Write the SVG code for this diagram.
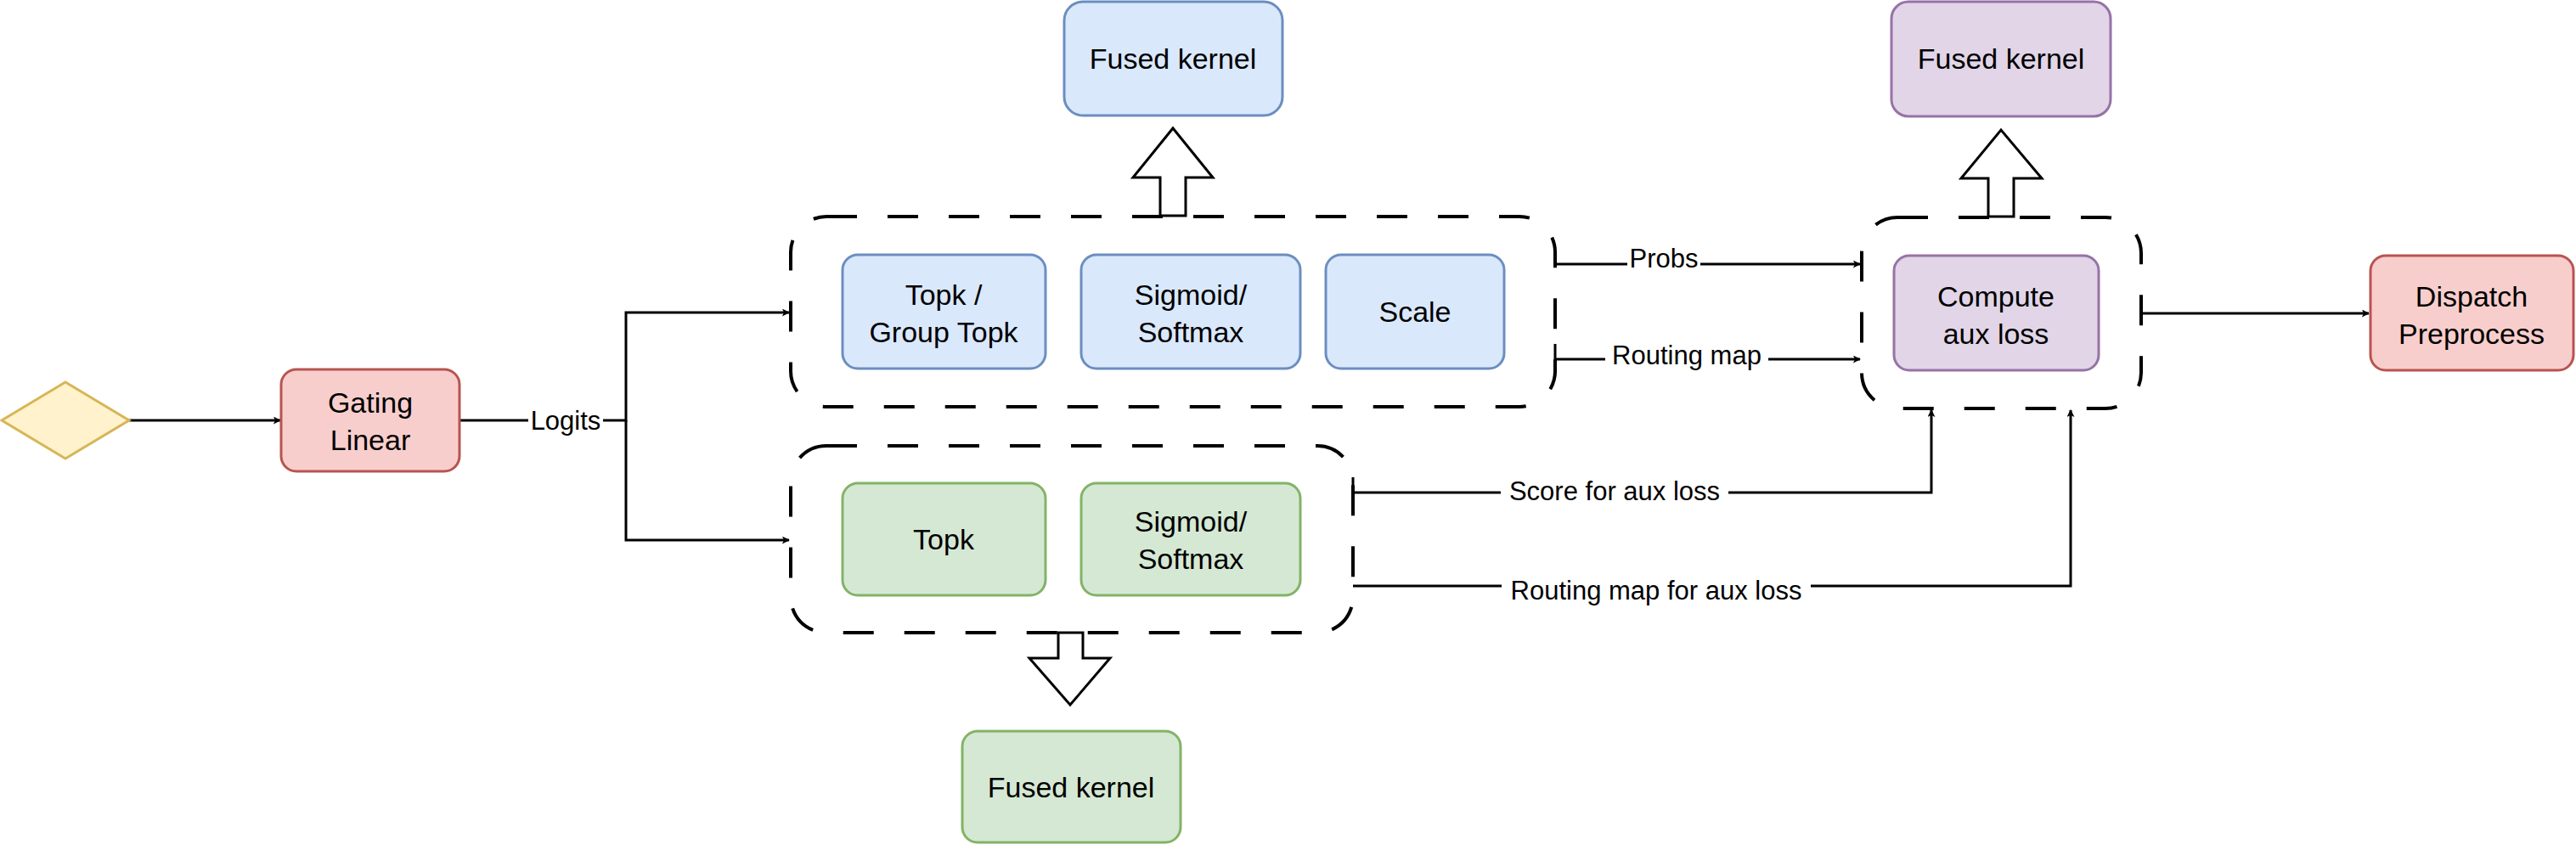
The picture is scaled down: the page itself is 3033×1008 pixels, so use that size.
<svg xmlns="http://www.w3.org/2000/svg" width="3033" height="1008" viewBox="0 0 3033 1008">
<style>
text{font-family:"Liberation Sans",Arial,sans-serif;font-size:34px;fill:#000;text-anchor:middle;dominant-baseline:central}
.lbl{font-size:31px}
.n{stroke-width:3}
.blue{fill:#dae8fc;stroke:#6c8ebf}
.green{fill:#d5e8d4;stroke:#82b366}
.purple{fill:#e1d5e7;stroke:#9673a6}
.red{fill:#f8cecc;stroke:#b85450}
.grp{fill:none;stroke:#000;stroke-width:4;stroke-dasharray:36 36}
.c{fill:none;stroke:#000;stroke-width:3}
.blk{fill:#fff;stroke:#000;stroke-width:3;stroke-linejoin:miter}
</style>
<defs>
<marker id="ar" viewBox="0 0 10 10" refX="9" refY="5" markerWidth="9" markerHeight="9" markerUnits="userSpaceOnUse" orient="auto">
<path d="M0,0 L10,5 L0,10 L2.5,5 Z" fill="#000"/>
</marker>
</defs>
<g id="connectors">
<line class="c" x1="152" y1="495" x2="330" y2="495" marker-end="url(#ar)" style="marker-end:url(#ar)"/>
<path class="c" d="M541,495 H737 V368 H929" marker-end="url(#ar)"/>
<path class="c" d="M737,495 V636 H929" marker-end="url(#ar)"/>
<path class="c" d="M1831,311 H2190" marker-end="url(#ar)"/>
<path class="c" d="M1831,423 H2190" marker-end="url(#ar)"/>
<line class="c" x1="1831" y1="405" x2="1831" y2="441"/>
<path class="c" d="M2521,369 H2789" marker-end="url(#ar)"/>
<path class="c" d="M1593,580 H2274 V483" marker-end="url(#ar)"/>
<line class="c" x1="1593" y1="562" x2="1593" y2="598"/>
<path class="c" d="M1593,690 H2438 V483" marker-end="url(#ar)"/>
<rect x="622" y="478" width="88" height="34" fill="#fff"/>
<text class="lbl" x="666" y="495">Logits</text>
<rect x="1916" y="294" width="86" height="34" fill="#fff"/>
<text class="lbl" x="1959" y="304">Probs</text>
<rect x="1890" y="404" width="192" height="34" fill="#fff"/>
<text class="lbl" x="1986" y="418">Routing map</text>
<rect x="1767" y="562" width="268" height="34" fill="#fff"/>
<text class="lbl" x="1901" y="578">Score for aux loss</text>
<rect x="1768" y="676" width="364" height="34" fill="#fff"/>
<text class="lbl" x="1950" y="695">Routing map for aux loss</text>
</g>
<g id="input"><polygon points="2,495 77,450 152,495 77,540" fill="#fff2cc" stroke="#d6b656" stroke-width="3"/></g>
<g id="gating"><rect class="n red" x="331" y="435" width="210" height="120" rx="18"/><text x="436" y="474">Gating</text><text x="436" y="518">Linear</text></g>
<g id="group-top"><rect class="grp" x="931" y="255" width="900" height="224" rx="42"/></g>
<g id="group-bottom"><rect class="grp" x="931" y="525" width="662" height="220" rx="42"/></g>
<g id="group-aux"><rect class="grp" x="2192" y="256" width="329" height="225" rx="42"/></g>
<g id="topk-group"><rect class="n blue" x="992" y="300" width="239" height="134" rx="18"/><text x="1111" y="347">Topk /</text><text x="1111" y="391">Group Topk</text></g>
<g id="sigmoid-top"><rect class="n blue" x="1273" y="300" width="258" height="134" rx="18"/><text x="1402" y="347">Sigmoid/</text><text x="1402" y="391">Softmax</text></g>
<g id="scale"><rect class="n blue" x="1561" y="300" width="210" height="134" rx="18"/><text x="1666" y="367">Scale</text></g>
<g id="fused-blue"><rect class="n blue" x="1253" y="2" width="257" height="134" rx="22"/><text x="1381" y="69">Fused kernel</text></g>
<g id="arrow-up-blue"><polygon class="blk" points="1366,254 1366,209 1334,209 1381,151 1428,209 1396,209 1396,254"/></g>
<g id="topk-green"><rect class="n green" x="992" y="569" width="239" height="132" rx="18"/><text x="1111" y="635">Topk</text></g>
<g id="sigmoid-green"><rect class="n green" x="1273" y="569" width="258" height="132" rx="18"/><text x="1402" y="614">Sigmoid/</text><text x="1402" y="658">Softmax</text></g>
<g id="arrow-down-green"><polygon class="blk" points="1246,745 1246,775 1212,775 1260,830 1307,775 1275,775 1275,745"/></g>
<g id="fused-green"><rect class="n green" x="1133" y="861" width="257" height="131" rx="18"/><text x="1261" y="927">Fused kernel</text></g>
<g id="compute-aux"><rect class="n purple" x="2230" y="301" width="241" height="135" rx="18"/><text x="2350" y="349">Compute</text><text x="2350" y="393">aux loss</text></g>
<g id="arrow-up-purple"><polygon class="blk" points="2341,255 2341,210 2309,210 2356,153 2404,210 2371,210 2371,255"/></g>
<g id="fused-purple"><rect class="n purple" x="2227" y="2" width="258" height="135" rx="20"/><text x="2356" y="69">Fused kernel</text></g>
<g id="dispatch"><rect class="n red" x="2791" y="301" width="239" height="135" rx="18"/><text x="2910" y="349">Dispatch</text><text x="2910" y="393">Preprocess</text></g>
</svg>
